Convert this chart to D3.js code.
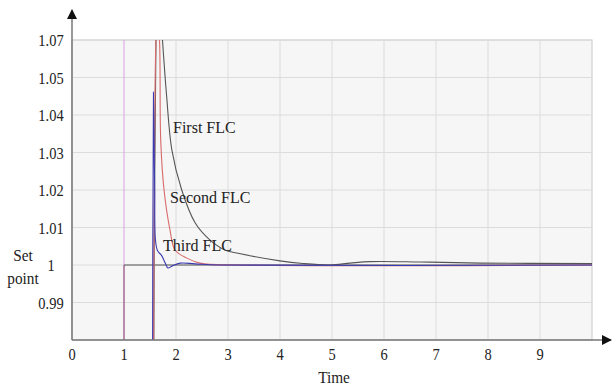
<!DOCTYPE html>
<html>
<head>
<meta charset="utf-8">
<script src="https://cdn.jsdelivr.net/npm/d3@7"></script>
<style>
  body { margin: 0; background: #fff; }
  text { font-family: "Liberation Serif", "Times New Roman", serif; fill: #222; }
</style>
</head>
<body>
<div id="chart"></div>
<script>
/* Set point response of three fuzzy controllers */

// time ticks on the x axis
const xTicks = [0, 1, 2, 3, 4, 5, 6, 7, 8, 9];
// y grid positions and the labels printed next to them (top one reads 1.07 in the source)
const yTicks = [0.99, 1, 1.01, 1.02, 1.03, 1.04, 1.05, 1.06];
const yLabels = ["0.99", "1", "1.01", "1.02", "1.03", "1.04", "1.05", "1.07"];

// step reference
const stepTime = 1;
const setPoint = 1;

// responses, [time, value]
const firstFLC = [[1.567, 0.96], [1.615, 1.06], [1.66, 1.078], [1.74, 1.06], [1.82, 1.045],
    [1.92, 1.0307], [2.11, 1.02], [2.37, 1.0112], [2.65, 1.0067], [2.94, 1.004],
    [3.17, 1.0032], [4.0, 1.0011], [4.44, 1.0004], [4.96, 1.0], [5.35, 1.0005],
    [5.73, 1.0009], [6.69, 1.0008], [7.85, 1.0005], [10, 1.0004]];
const secondFLC = [[1.567, 0.96], [1.615, 1.06], [1.644, 1.066], [1.683, 1.06], [1.706, 1.0333],
    [1.77, 1.02], [1.885, 1.0093], [1.98, 1.004], [2.2, 1.0019], [2.46, 1.0005],
    [3.23, 1.0], [10, 1.0]];
const thirdFLC = [[1.548, 0.96], [1.567, 1.0461], [1.59, 1.02], [1.605, 1.0067], [1.645, 1.0038],
    [1.725, 1.0025], [1.79, 1.0006], [1.846, 0.9992], [1.923, 0.9997], [2.08, 1.0005],
    [2.37, 1.0003], [2.85, 1.0], [10, 1.0]];

const series = [
    {name: "First FLC", values: firstFLC, color: "#555555", lx: 173, ly: 133},
    {name: "Second FLC", values: secondFLC, color: "#d86a6a", lx: 170, ly: 203},
    {name: "Third FLC", values: thirdFLC, color: "#3b3bb0", lx: 163, ly: 251}
];

const width = 612,
    height = 385,
    margin = ({top: 40, right: 20, bottom: 45, left: 72});

let svg = d3.select("#chart")
    .append("svg")
    .attr("width", width)
    .attr("height", height);

let x = d3.scaleLinear()
    .domain([0, 10])
    .range([margin.left, width - margin.right]);

let y = d3.scaleLinear()
    .domain([0.98, 1.06])
    .range([height - margin.bottom, margin.top]);

// plot background
svg.append("rect")
    .attr("x", x(0))
    .attr("y", y(1.06))
    .attr("width", x(10) - x(0))
    .attr("height", y(0.98) - y(1.06))
    .attr("fill", "#f6f6f6")
    .attr("stroke", "#c8c8c8");

svg.append("defs").append("clipPath")
    .attr("id", "clip")
    .append("rect")
    .attr("x", x(0))
    .attr("y", y(1.06))
    .attr("width", x(10) - x(0))
    .attr("height", y(0.98) - y(1.06));

// grid
svg.append("g")
    .selectAll("line")
    .data(yTicks)
    .join("line")
    .attr("x1", x(0))
    .attr("x2", x(10))
    .attr("y1", d => y(d))
    .attr("y2", d => y(d))
    .attr("stroke", "#dcdcdc");

svg.append("g")
    .selectAll("line")
    .data(xTicks.slice(1))
    .join("line")
    .attr("x1", d => x(d))
    .attr("x2", d => x(d))
    .attr("y1", y(0.98))
    .attr("y2", y(1.06))
    .attr("stroke", d => d === stepTime ? "#d8a4e0" : "#dcdcdc");

// set point step
svg.append("path")
    .attr("fill", "none")
    .attr("stroke", "#8a4a6a")
    .attr("d", d3.line()([[x(stepTime), y(0.98)], [x(stepTime), y(setPoint)]]));

svg.append("path")
    .attr("fill", "none")
    .attr("stroke", "#555")
    .attr("d", d3.line()([[x(stepTime), y(setPoint)], [x(10), y(setPoint)]]));

// responses
let line = d3.line()
    .curve(d3.curveCatmullRom.alpha(0.5))
    .x(d => x(d[0]))
    .y(d => y(d[1]));

svg.append("g")
    .attr("clip-path", "url(#clip)")
    .selectAll("path")
    .data(series)
    .join("path")
    .attr("fill", "none")
    .attr("stroke", d => d.color)
    .attr("stroke-width", 1.1)
    .attr("d", d => line(d.values));

svg.append("g")
    .selectAll("text")
    .data(series)
    .join("text")
    .attr("x", d => d.lx)
    .attr("y", d => d.ly)
    .attr("font-size", 16)
    .text(d => d.name);

// axes with arrows
svg.append("defs").append("marker")
    .attr("id", "arrow")
    .attr("viewBox", "0 0 10 10")
    .attr("refX", 9)
    .attr("refY", 5)
    .attr("markerWidth", 7)
    .attr("markerHeight", 7)
    .attr("orient", "auto")
    .append("path")
    .attr("d", "M0,0L10,5L0,10z")
    .attr("fill", "#111");

svg.append("line")
    .attr("x1", x(0)).attr("x2", 611)
    .attr("y1", y(0.98)).attr("y2", y(0.98))
    .attr("stroke", "#777")
    .attr("stroke-width", 1.5)
    .attr("marker-end", "url(#arrow)");

svg.append("line")
    .attr("x1", x(0)).attr("x2", x(0))
    .attr("y1", y(0.98)).attr("y2", 10)
    .attr("stroke", "#777")
    .attr("stroke-width", 1.5)
    .attr("marker-end", "url(#arrow)");

// tick labels, squeezed a little like the source
svg.append("g")
    .selectAll("text")
    .data(xTicks)
    .join("text")
    .attr("transform", d => `translate(${x(d)},360) scale(0.85,1)`)
    .attr("text-anchor", "middle")
    .attr("font-size", 17)
    .text(d => d);

svg.append("g")
    .selectAll("text")
    .data(yTicks)
    .join("text")
    .attr("transform", d => `translate(51,${y(d) + 6}) scale(0.85,1)`)
    .attr("text-anchor", "middle")
    .attr("font-size", 17)
    .text((d, i) => yLabels[i]);

svg.append("text")
    .attr("transform", "translate(334,383) scale(0.9,1)")
    .attr("text-anchor", "middle")
    .attr("font-size", 17)
    .text("Time");

let yTitle = svg.append("text")
    .attr("transform", "translate(23,0) scale(0.9,1)")
    .attr("text-anchor", "middle")
    .attr("font-size", 17);
yTitle.append("tspan").attr("x", 0).attr("y", 261).text("Set");
yTitle.append("tspan").attr("x", 0).attr("y", 284).text("point");
</script>
</body>
</html>
